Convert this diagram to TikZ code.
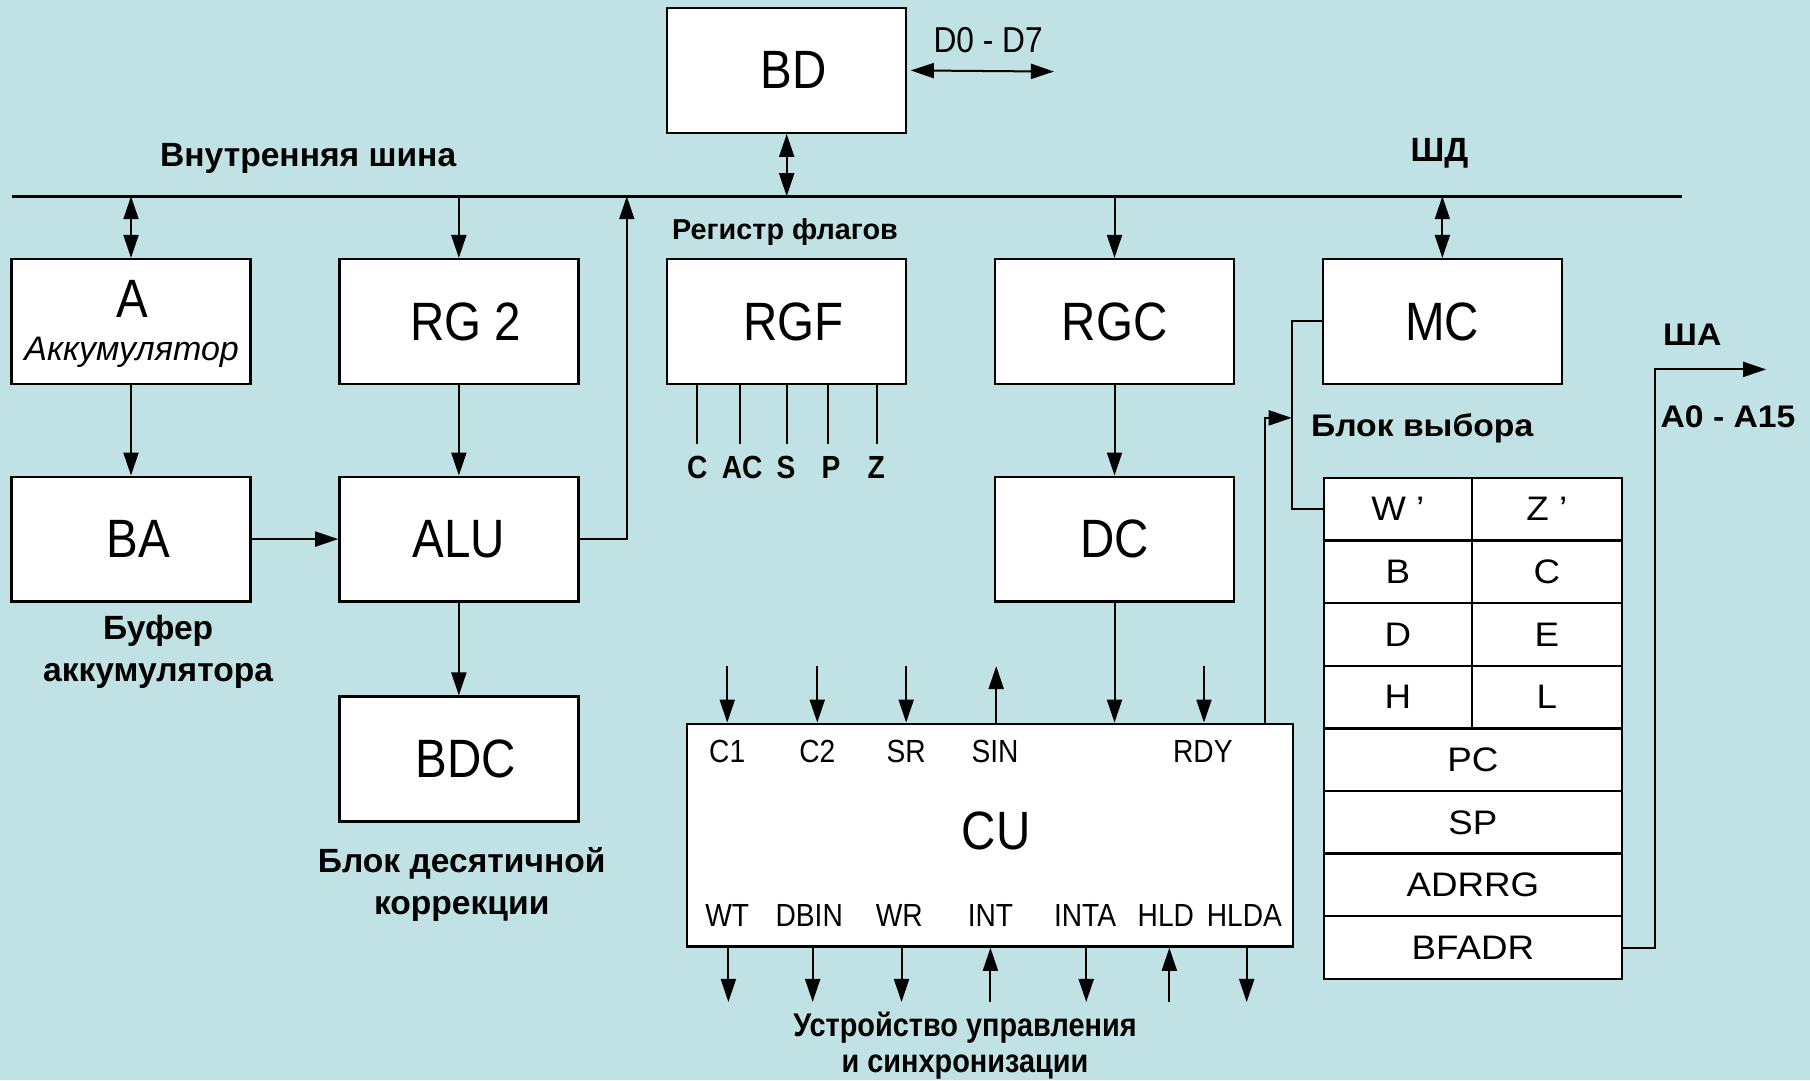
\documentclass[tikz,border=0pt]{standalone}
\usepackage{fontspec}
\setmainfont{Liberation Sans}
\newfontfamily\nar[FakeStretch=0.88]{Liberation Sans}
\newfontfamily\wid[FakeStretch=1.08]{Liberation Sans}
\usetikzlibrary{arrows.meta}
\definecolor{bg}{RGB}{193,226,229}
\newcommand\pxu{0.57717pt}
\begin{document}
\begin{tikzpicture}[x=0.57717pt,y=-0.57717pt,
  box/.style={draw, line width=1.2pt, fill=white, minimum width=207*\pxu, minimum height=108*\pxu, inner sep=0pt, font=\nar\fontsize{27}{30}\selectfont},
  cell/.style={draw, line width=1.2pt, fill=white, minimum height=54.25*\pxu, inner sep=0pt, font=\wid\fontsize{17}{20}\selectfont},
  conn/.style={line width=1pt},
  arr/.style={conn,-{Triangle[length=11.5pt,width=7.5pt]}},
  darr/.style={conn,{Triangle[length=11.5pt,width=7.5pt]}-{Triangle[length=11.5pt,width=7.5pt]}},
  lab/.style={font=\bfseries\fontsize{16.8}{21}\selectfont, align=center, inner sep=0pt},
  wlab/.style={font=\wid\bfseries\fontsize{15.6}{20}\selectfont, inner sep=0pt},
  pin/.style={font=\nar\fontsize{16}{18}\selectfont, inner sep=0pt},
  big/.style={font=\nar\fontsize{27}{30}\selectfont, inner sep=0pt}
  ]
\fill[bg] (0,0) rectangle (1568,936);
\useasboundingbox (0,0) rectangle (1568,936);

% bus
\coordinate (busL) at (10,170);
\coordinate (busR) at (1457,170);
\draw[line width=1.35pt] (busL) -- (busR);
\node[lab] (bustxt) at (267,137) {Внутренняя шина};
\node[lab] (shd) at (1247,133) {ШД};

% boxes
\node[box] (BD) at (681.5,61) {\hspace*{7pt}BD};
\node[box] (A) at (113.5,278.5) {};
\node[big] (Atxt) at (115,259) {A};
\node[pin, font=\itshape\fontsize{17}{19}\selectfont] (Aacc) at (114,305) {Аккумулятор};
\node[box] (RG2) at (397.5,278.5) {\hspace*{7pt}RG 2};
\node[box] (RGF) at (681.5,278.5) {\hspace*{7pt}RGF};
\node[box] (RGC) at (965.5,278.5) {RGC};
\node[box] (MC) at (1249.5,278.5) {MC};
\node[box] (BA) at (113.5,467) {\hspace*{7pt}BA};
\node[box] (ALU) at (397.5,467) {ALU};
\node[box] (DC) at (965.5,467) {DC};
\node[box] (BDC) at (397.5,657.5) {\hspace*{7pt}BDC};
\node[draw, line width=1.2pt, fill=white, minimum width=525*\pxu, minimum height=193*\pxu, inner sep=0pt] (CU) at (857.5,723.5) {};
\node[big] (CUtxt) at (863,720) {CU};

% D0-D7
\coordinate (d07) at (913,62);
\draw[darr] (BD.east) ++(3,0) -- (d07);
\node[pin, font=\nar\fontsize{18}{20}\selectfont] (d07txt) at (856,35) {D0 - D7};

% bus connections
\draw[darr] (BD.south) -- (BD.south |- busL);
\draw[darr] (A.north) -- (A.north |- busL);
\draw[arr] (RG2.north |- busL) -- (RG2.north);
\coordinate (aluUp) at (543,170);
\draw[arr] (ALU.east) -| (aluUp);
\draw[arr] (RGC.north |- busL) -- (RGC.north);
\draw[darr] (MC.north) -- (MC.north |- busL);

% vertical flows
\draw[arr] (A.south) -- (BA.north);
\draw[arr] (RG2.south) -- (ALU.north);
\draw[arr] (RGC.south) -- (DC.north);
\draw[arr] (ALU.south) -- (BDC.north);
\draw[arr] (BA.east) -- (ALU.west);
\draw[arr] (DC.south) -- (DC.south |- CU.north);

% flags
\node[lab, font=\bfseries\fontsize{14.4}{18}\selectfont] (rgftxt) at (680,201) {Регистр флагов};
\foreach \n/\x/\lx in {C/604/604, AC/641/643, S/682/681, P/717/720, Z/760/759} {
  \coordinate (f\n) at (\x,385);
  \draw[conn] (f\n |- RGF.south) -- (f\n);
  \node[lab, font=\nar\bfseries\fontsize{16}{18}\selectfont] (fl\n) at (\lx,405) {\n};
}

% labels
\node[lab] (bufa) at (137,565) {Буфер\\аккумулятора};
\node[lab] (bdctxt) at (400,766) {Блок десятичной\\коррекции};
\node[lab, font=\nar\bfseries\fontsize{16.4}{18}\selectfont] (cutxt2) at (836,906) {Устройство управления\\и синхронизации};

% CU pins top
\foreach \n/\x in {c1/630, c2/708, sr/785, rdy/1043} {
  \coordinate (\n in) at (\x,577);
  \draw[arr] (\n in) -- (\n in |- CU.north);
}
\coordinate (sinout) at (863,577);
\draw[arr] (sinout |- CU.north) -- (sinout);
\foreach \n/\t/\x in {lc1/C1/630, lc2/C2/708, lsr/SR/785, lsin/SIN/862, lrdy/RDY/1042} {
  \node[pin] (\n) at (\x,651) {\t};
}
% CU pins bottom
\foreach \n/\x in {wt/631, dbin/704, wr/781, inta/941, hlda/1080} {
  \coordinate (\n out) at (\x,868);
  \draw[arr] (\n out |- CU.south) -- (\n out);
}
\foreach \n/\x in {int/858, hld/1013} {
  \coordinate (\n in) at (\x,868);
  \draw[arr] (\n in) -- (\n in |- CU.south);
}
\foreach \n/\t/\x in {lwt/WT/630, ldbin/DBIN/701, lwr/WR/779, lint/INT/858, linta/INTA/940, lhld/HLD/1010, lhlda/HLDA/1078} {
  \node[pin] (\n) at (\x,793) {\t};
}

% register block
\foreach \n/\t/\k in {W/W ’/0, B/B/1, D/D/2, H/H/3} {
  \node[cell, minimum width=128*\pxu] (\n) at (1211,441.125+54.25*\k) {\t};
}
\foreach \n/\t/\k in {Zr/Z ’/0, Cr/C/1, Er/E/2, Lr/L/3} {
  \node[cell, minimum width=130*\pxu] (\n) at (1340,441.125+54.25*\k) {\t};
}
\foreach \n/\k in {PC/4, SP/5, ADRRG/6, BFADR/7} {
  \node[cell, minimum width=258*\pxu] (\n) at (1276,441.125+54.25*\k) {\n};
}
\node[wlab] (blv) at (1232,371) {Блок выбора};

% selection line
\draw[conn] (MC.west) -- ++(-26,0) |- (W.west);
\coordinate (sel) at (1119,362);
\draw[arr] (CU.north east) ++(-25,0) |- (sel);

% address bus
\coordinate (sha) at (1530,320);
\draw[arr] (BFADR.east) -- ++(28,0) |- (sha);
\node[wlab] (shatxt) at (1466,290) {ША};
\node[wlab] (a015) at (1497,361) {A0 - A15};
\end{tikzpicture}
\end{document}
